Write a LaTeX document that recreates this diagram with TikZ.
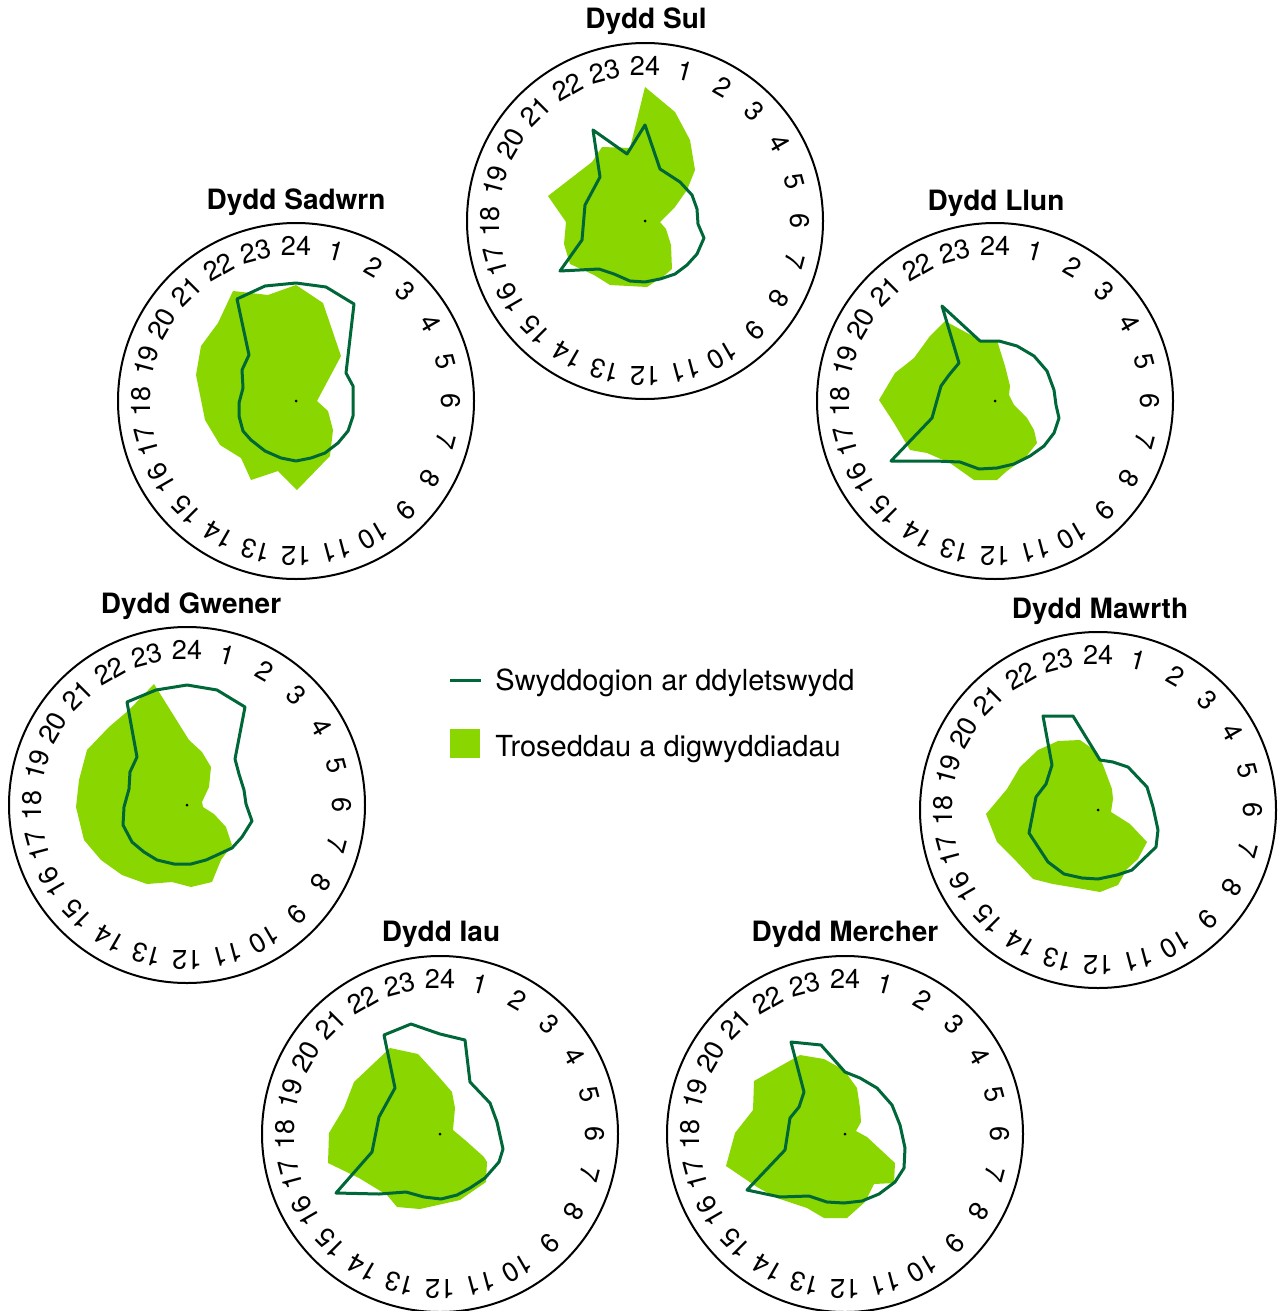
\documentclass[tikz,border=0pt]{standalone}
\usepackage{fontspec}
\setmainfont{TeX Gyre Heros}
\usetikzlibrary{calc}
\definecolor{lime}{RGB}{138,214,0}
\definecolor{pine}{RGB}{0,103,56}
\tikzset{
  dial/.style={draw=black,line width=1pt},
  hour/.style={inner sep=0pt,font=\fontsize{13.5}{15}\selectfont},
  title/.style={anchor=base,font=\fontsize{14}{16}\selectfont\bfseries},
  crime/.style={fill=lime},
  staff/.style={draw=pine,line width=1.5pt,line join=round},
  legtext/.style={anchor=base west,inner sep=0pt,font=\fontsize{14.5}{17}\selectfont}
}
\begin{document}
\begin{tikzpicture}[x=0.5pt,y=-0.5pt]
\useasboundingbox (0,0) rectangle (1280,1311);

% crimes and incidents
\fill[crime] (645,87) -- (675,112) -- (690,140) -- (695,170) -- (687,190) -- (675,207) -- (660,222) -- (666,229) -- (671,245) -- (672,269) -- (665,275) -- (647,287) -- (610,285) -- (594,275) -- (570,264) -- (564,244) -- (566,222) -- (548,196) -- (570,179) -- (592,162) -- (602,147) -- (630,148) -- cycle;
\fill[crime] (296,285) -- (323,303) -- (341,356) -- (317,401) -- (328,411) -- (333,430) -- (330,456) -- (297,490) -- (278,471) -- (251,480) -- (241,458) -- (220,445) -- (205,420) -- (196,375) -- (201,346) -- (218,323) -- (233,291) -- (268,295) -- cycle;
\fill[crime] (945,321) -- (980,340) -- (997,340) -- (1000,350) -- (1005,366) -- (1010,386) -- (1009,395) -- (1014,405) -- (1027,418) -- (1034,430) -- (1037,443) -- (1025,458) -- (1007,471) -- (997,480) -- (974,480) -- (950,463) -- (927,453) -- (910,450) -- (894,423) -- (879,400) -- (895,373) -- (914,358) -- (930,336) -- cycle;
\fill[crime] (154,684) -- (189,740) -- (202,752) -- (211,767) -- (209,787) -- (202,802) -- (203,807) -- (214,814) -- (226,827) -- (232,845) -- (221,860) -- (212,882) -- (191,887) -- (172,882) -- (147,884) -- (122,875) -- (101,860) -- (84,840) -- (76,807) -- (79,780) -- (87,750) -- (109,727) -- (129,710) -- cycle;
\fill[crime] (1058,741) -- (1080,740) -- (1097,752) -- (1103,765) -- (1112,789) -- (1113,799) -- (1111,812) -- (1130,824) -- (1147,842) -- (1138,859) -- (1127,869) -- (1118,885) -- (1100,892) -- (1083,889) -- (1053,884) -- (1033,879) -- (1017,862) -- (997,842) -- (986,814) -- (1007,789) -- (1020,767) -- (1038,750) -- cycle;
\fill[crime] (390,1048) -- (418,1054) -- (439,1077) -- (452,1092) -- (455,1108) -- (453,1130) -- (465,1140) -- (484,1157) -- (487,1162) -- (486,1182) -- (460,1200) -- (420,1209) -- (397,1207) -- (387,1195) -- (359,1178) -- (328,1163) -- (329,1133) -- (344,1108) -- (354,1082) -- cycle;
\fill[crime] (800,1055) -- (824,1059) -- (844,1070) -- (857,1088) -- (860,1108) -- (861,1122) -- (856,1131) -- (867,1137) -- (895,1163) -- (894,1183) -- (874,1184) -- (865,1202) -- (847,1218) -- (824,1218) -- (807,1208) -- (777,1198) -- (757,1187) -- (726,1166) -- (735,1133) -- (753,1110) -- (754,1081) -- (777,1068) -- cycle;

% officers on duty
\draw[staff] (645,125) -- (660,169) -- (680,182) -- (692,195) -- (697,209) -- (698,224) -- (704,238) -- (697,254) -- (687,265) -- (675,274) -- (660,279) -- (645,282) -- (630,281) -- (614,274) -- (599,269) -- (560,271) -- (582,240) -- (585,205) -- (600,177) -- (593,130) -- (627,154) -- cycle;
\draw[staff] (237,299) -- (265,286) -- (296,283) -- (326,287) -- (354,304) -- (346,373) -- (353,386) -- (353,416) -- (348,431) -- (338,443) -- (325,453) -- (311,458) -- (296,461) -- (281,458) -- (265,451) -- (251,440) -- (243,431) -- (239,416) -- (239,403) -- (243,388) -- (242,370) -- (249,355) -- cycle;
\draw[staff] (942,306) -- (980,341) -- (999,341) -- (1017,346) -- (1034,356) -- (1047,371) -- (1054,390) -- (1056,405) -- (1059,418) -- (1054,433) -- (1044,446) -- (1030,456) -- (1014,464) -- (997,468) -- (979,469) -- (960,462) -- (935,461) -- (891,461) -- (932,418) -- (941,386) -- (949,375) -- (959,363) -- cycle;
\draw[staff] (127,702) -- (156,690) -- (187,685) -- (217,690) -- (245,707) -- (235,759) -- (239,774) -- (244,790) -- (246,804) -- (252,821) -- (242,837) -- (232,848) -- (217,855) -- (206,860) -- (191,864) -- (174,864) -- (157,860) -- (144,852) -- (132,842) -- (123,825) -- (124,807) -- (129,789) -- (130,772) -- (137,757) -- cycle;
\draw[staff] (1043,716) -- (1073,716) -- (1100,760) -- (1113,762) -- (1128,767) -- (1147,787) -- (1153,807) -- (1158,830) -- (1156,847) -- (1132,870) -- (1117,875) -- (1098,879) -- (1082,878) -- (1064,874) -- (1048,862) -- (1029,833) -- (1036,797) -- (1046,784) -- (1052,765) -- cycle;
\draw[staff] (384,1035) -- (411,1024) -- (440,1034) -- (465,1040) -- (470,1082) -- (490,1103) -- (497,1122) -- (503,1149) -- (499,1162) -- (485,1178) -- (470,1188) -- (457,1195) -- (441,1199) -- (424,1197) -- (406,1192) -- (379,1194) -- (336,1193) -- (372,1152) -- (379,1117) -- (395,1088) -- cycle;
\draw[staff] (791,1042) -- (821,1045) -- (845,1072) -- (860,1078) -- (877,1088) -- (892,1105) -- (900,1125) -- (905,1148) -- (904,1168) -- (895,1182) -- (879,1194) -- (862,1201) -- (844,1203) -- (827,1202) -- (809,1196) -- (780,1197) -- (747,1190) -- (785,1150) -- (790,1118) -- (799,1107) -- (804,1092) -- cycle;

% dials
\foreach \day/\cx/\cy in {sul/645/221,sadwrn/296/401,llun/995/401,gwener/187/805,mawrth/1098/810,iau/440/1134,mercher/845/1134}{
  \coordinate (\day) at (\cx,\cy);
  \draw[dial] (\day) circle (178);
  \fill (\day) circle (1.5);
  \foreach \h in {1,...,24}
    \node[hour,rotate=-15*\h] (\day\h) at ($(\day)+(15*\h-90:155)$) {\h};
}

\node[title] (sulT) at (646,29) {Dydd Sul};
\node[title] (sadwrnT) at (296,209) {Dydd Sadwrn};
\node[title] (llunT) at (996,210) {Dydd Llun};
\node[title] (gwenerT) at (191,613) {Dydd Gwener};
\node[title] (mawrthT) at (1100,618) {Dydd Mawrth};
\node[title] (iauT) at (441,941) {Dydd Iau};
\node[title] (mercherT) at (845,941) {Dydd Mercher};

% legend
\coordinate (l1) at (450,680);
\coordinate (l2) at (481,680);
\draw[staff] (l1) -- (l2);
\node[legtext] (staffL) at (495,690) {Swyddogion ar ddyletswydd};
\fill[crime] (450,729) rectangle (480,758);
\node[legtext] (crimeL) at (495,756) {Troseddau a digwyddiadau};
\end{tikzpicture}
\end{document}
